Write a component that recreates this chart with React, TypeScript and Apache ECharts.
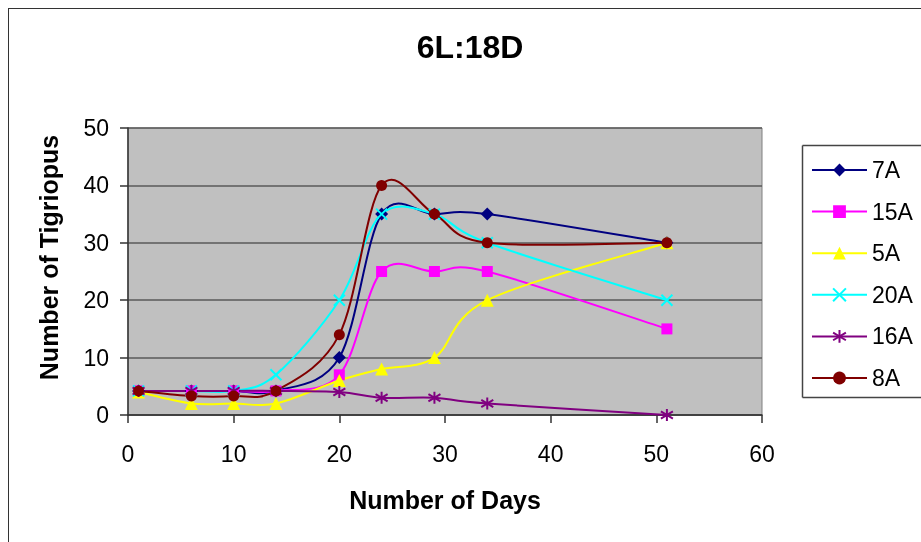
import React, { useEffect, useRef } from "react";
import * as echarts from "echarts";

const days = [1, 6, 10, 14, 20, 24, 29, 34, 51];
const seriesNames = ["7A", "15A", "5A", "20A", "16A", "8A"];
const v7A = [4.2, 4.2, 4.2, 4.2, 10, 35, 35, 35, 30];
const v15A = [4.2, 4.2, 4.2, 4.2, 7, 25, 25, 25, 15];
const v5A = [4, 2, 2, 2, 6, 8, 10, 20, 30];
const v20A = [4.2, 4.2, 4.2, 7, 20, 35, 35, 30, 20];
const v16A = [4.2, 4.2, 4.2, 4.2, 4, 3, 3, 2, 0];
const v8A = [4.2, 3.3, 3.3, 4.2, 14, 40, 35, 30, 30];
const xTicks = [0, 10, 20, 30, 40, 50, 60];
const yTicks = [0, 10, 20, 30, 40, 50];

const FONT = "'Liberation Sans', Arial, sans-serif";

const styles = [
  { color: "#000080", symbol: "diamond", size: 13, stroke: false },
  { color: "#FF00FF", symbol: "rect", size: 11, stroke: false },
  { color: "#FFFF00", symbol: "triangle", size: 13, stroke: false },
  { color: "#00FFFF", symbol: "path://M0,0L10,10M10,0L0,10", size: 11, stroke: true },
  { color: "#800080", symbol: "path://M5,0L5,10M0,2L10,8M0,8L10,2", size: 12, stroke: true },
  { color: "#800000", symbol: "circle", size: 11, stroke: false },
];

function curvePath(pts: number[][]): string {
  // Catmull-Rom style smoothing (like a spreadsheet "smoothed line")
  let d = `M${pts[0][0]},${pts[0][1]}`;
  for (let i = 0; i < pts.length - 1; i++) {
    const p0 = pts[i - 1] || pts[i];
    const p1 = pts[i];
    const p2 = pts[i + 1];
    const p3 = pts[i + 2] || pts[i + 1];
    const c1x = p1[0] + (p2[0] - p0[0]) / 6;
    const c1y = p1[1] + (p2[1] - p0[1]) / 6;
    const c2x = p2[0] - (p3[0] - p1[0]) / 6;
    const c2y = p2[1] - (p3[1] - p1[1]) / 6;
    d += `C${c1x},${c1y},${c2x},${c2y},${p2[0]},${p2[1]}`;
  }
  return d;
}

export default function App() {
  const ref = useRef<HTMLDivElement>(null);
  useEffect(() => {
    if (!ref.current) return;
    const chart = echarts.init(ref.current, null, { renderer: "svg" });
    const allValues = [v7A, v15A, v5A, v20A, v16A, v8A];
    const series: any[] = [];
    seriesNames.forEach((name, i) => {
      const s = styles[i];
      const vals = allValues[i];
      const data = days.map((d, j) => [d, vals[j]]);
      series.push({
        type: "custom",
        coordinateSystem: "cartesian2d",
        silent: true,
        data,
        encode: { x: 0, y: 1 },
        renderItem: (params: any, api: any) => {
          if (params.dataIndex !== 0) return null;
          const pts = days.map((d, j) => api.coord([d, vals[j]]));
          return {
            type: "path",
            shape: { pathData: curvePath(pts) },
            style: { fill: "none", stroke: s.color, lineWidth: 2 },
          };
        },
      });
      series.push({
        name,
        type: "line",
        data,
        symbol: s.symbol,
        symbolSize: s.size,
        showAllSymbol: true,
        lineStyle: { color: s.color, width: 0 },
        itemStyle: s.stroke
          ? { color: s.color, borderColor: s.color, borderWidth: 2 }
          : { color: s.color, borderWidth: 0 },
        emphasis: { disabled: true },
      });
    });
    const boxLine = { stroke: "#444", lineWidth: 1.5 };
    chart.setOption({
      animation: false,
      textStyle: { fontFamily: FONT },
      graphic: [
        {
          type: "line",
          shape: { x1: 0, y1: 0, x2: 913, y2: 0 },
          style: { stroke: "#333", lineWidth: 2 },
          silent: true,
        },
        {
          type: "line",
          shape: { x1: 0, y1: 0, x2: 0, y2: 534 },
          style: { stroke: "#333", lineWidth: 2 },
          silent: true,
        },
        {
          type: "line",
          shape: { x1: 794.5, y1: 137.5, x2: 913, y2: 137.5 },
          style: boxLine,
          silent: true,
        },
        {
          type: "line",
          shape: { x1: 794.5, y1: 137.5, x2: 794.5, y2: 389.5 },
          style: boxLine,
          silent: true,
        },
        {
          type: "line",
          shape: { x1: 794.5, y1: 389.5, x2: 913, y2: 389.5 },
          style: boxLine,
          silent: true,
        },
        {
          type: "text",
          x: 462,
          y: 39,
          style: {
            text: "6L:18D",
            font: "bold 32px " + FONT,
            fill: "#000",
            align: "center",
            verticalAlign: "middle",
          },
        },
      ],
      grid: {
        left: 120,
        top: 120,
        right: 159,
        bottom: 127,
        show: true,
        backgroundColor: "#C0C0C0",
        borderColor: "#808080",
        borderWidth: 1,
      },
      legend: {
        orient: "vertical",
        left: 794,
        top: 137,
        data: seriesNames.map((name, i) => ({
          name,
          lineStyle: { color: styles[i].color, width: 2, opacity: 1 },
        })),
        itemWidth: 55,
        itemHeight: 16,
        itemGap: 17.6,
        padding: [13, 0, 7, 9],
        borderWidth: 0,
        borderColor: "transparent",
        backgroundColor: "transparent",
        textStyle: { fontSize: 23, lineHeight: 24, color: "#000", fontFamily: FONT },
      },
      xAxis: {
        type: "value",
        min: xTicks[0],
        max: xTicks[xTicks.length - 1],
        interval: 10,
        name: "Number of Days",
        nameLocation: "middle",
        nameGap: 72,
        nameTextStyle: { fontSize: 25, fontWeight: "bold", color: "#000", fontFamily: FONT },
        axisLine: { show: true, lineStyle: { color: "#333", width: 1.5 } },
        axisTick: { show: true, length: 8, inside: false, lineStyle: { color: "#333", width: 1.5 } },
        axisLabel: { fontSize: 23, color: "#000", margin: 27, fontFamily: FONT },
        splitLine: { show: false },
      },
      yAxis: {
        type: "value",
        min: yTicks[0],
        max: yTicks[yTicks.length - 1],
        interval: 10,
        name: "Number of Tigriopus",
        nameLocation: "middle",
        nameGap: 67,
        nameTextStyle: {
          fontSize: 25,
          fontWeight: "bold",
          color: "#000",
          fontFamily: FONT,
          padding: [0, 0, 0, 28],
        },
        axisLine: { show: true, lineStyle: { color: "#333", width: 1.5 } },
        axisTick: { show: true, length: 8, inside: false, lineStyle: { color: "#333", width: 1.5 } },
        axisLabel: { fontSize: 23, color: "#000", margin: 19, fontFamily: FONT },
        splitLine: { show: true, lineStyle: { color: "#5a5a5a", width: 1.5 } },
      },
      series,
    });
    return () => chart.dispose();
  }, []);
  return (
    <div
      ref={ref}
      style={{ position: "fixed", left: 8, top: 8, width: 913, height: 534 }}
    />
  );
}
